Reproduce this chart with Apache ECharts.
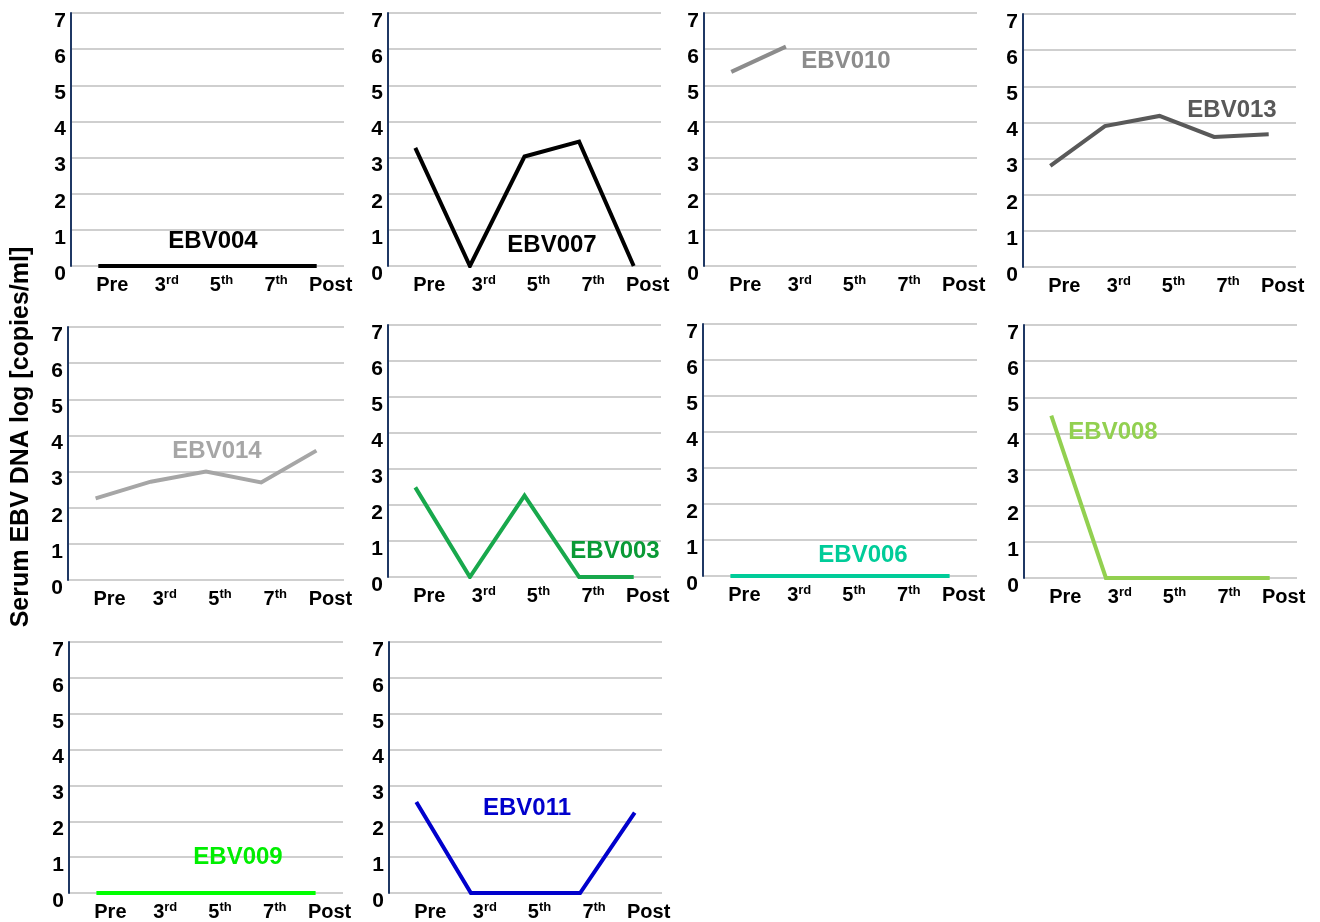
<!DOCTYPE html>
<html>
<head>
<meta charset="utf-8">
<script src="https://cdn.jsdelivr.net/npm/echarts@6/dist/echarts.min.js"></script>
<style>
  html, body { margin: 0; padding: 0; background: #fff; }
  #main { width: 1320px; height: 922px; }
</style>
</head>
<body>
<div id="main"></div>
<script>
// 数据
let categories = ['Pre', '3rd', '5th', '7th', 'Post'];
let yTicks = [0, 7, 1];

let ebv004 = [0, 0, 0, 0, 0];
let ebv007 = [3.27, 0, 3.03, 3.44, 0];
let ebv010 = [5.37, 6.07, null, null, null];
let ebv013 = [2.8, 3.9, 4.18, 3.6, 3.67];
let ebv014 = [2.26, 2.72, 3.0, 2.7, 3.58];
let ebv003 = [2.49, 0, 2.26, 0, 0];
let ebv006 = [0, 0, 0, 0, 0];
let ebv008 = [4.49, 0, 0, 0, 0];
let ebv009 = [0, 0, 0, 0, 0];
let ebv011 = [2.54, 0, 0, 0, 2.24];

let names = ['EBV004', 'EBV007', 'EBV010', 'EBV013', 'EBV014', 'EBV003', 'EBV006', 'EBV008', 'EBV009', 'EBV011'];
let values = [ebv004, ebv007, ebv010, ebv013, ebv014, ebv003, ebv006, ebv008, ebv009, ebv011];

// 每个小图的样式和位置
let panels = [
  { grid: [71, 13, 273, 253], color: '#000000', labelColor: '#000000', label: [213, 241] },
  { grid: [388, 13, 273, 253], color: '#000000', labelColor: '#000000', label: [552, 245] },
  { grid: [704, 13, 273, 253], color: '#8C8C8C', labelColor: '#8C8C8C', label: [846, 61] },
  { grid: [1023, 14, 273, 253], color: '#595959', labelColor: '#595959', label: [1232, 110] },
  { grid: [68, 327, 276, 253], color: '#A6A6A6', labelColor: '#A6A6A6', label: [217, 451] },
  { grid: [388, 325, 273, 252], color: '#18A84C', labelColor: '#0A9A36', label: [615, 551] },
  { grid: [703, 324, 274, 252], color: '#00CC99', labelColor: '#00CC99', label: [863, 555] },
  { grid: [1024, 325, 273, 253], color: '#92D050', labelColor: '#92D050', label: [1113, 432] },
  { grid: [69, 642, 274, 253], color: '#00FF00', labelColor: '#00EE00', label: [238, 857] },
  { grid: [389, 642, 273, 253], color: '#0000CC', labelColor: '#0000CC', label: [527, 808] }
];

let font = 'Liberation Sans, Arial, sans-serif';

let chartDom = document.getElementById('main');
let myChart = echarts.init(chartDom, null, { renderer: 'canvas' });

let grids = [], xAxes = [], yAxes = [], series = [], graphics = [];

panels.forEach(function (p, i) {
  grids.push({ left: p.grid[0], top: p.grid[1], width: p.grid[2], height: p.grid[3] });
  xAxes.push({
    type: 'category',
    gridIndex: i,
    data: categories,
    boundaryGap: true,
    axisLine: { show: false },
    axisTick: { show: false },
    axisLabel: {
      interval: 0,
      hideOverlap: false,
      margin: 8,
      padding: [0, 0, 0, 28],
      formatter: function (v) {
        let m = v.match(/^(\d)(\D+)$/);
        return m ? '{n|' + m[1] + '}{s|' + m[2] + '}' : '{n|' + v + '}';
      },
      rich: {
        n: { fontFamily: font, fontSize: 20, fontWeight: 'bold', color: '#000', lineHeight: 22 },
        s: { fontFamily: font, fontSize: 13, fontWeight: 'bold', color: '#000', lineHeight: 14, verticalAlign: 'top' }
      }
    }
  });
  yAxes.push({
    type: 'value',
    gridIndex: i,
    min: yTicks[0],
    max: yTicks[1],
    interval: yTicks[2],
    axisLine: { show: true, lineStyle: { color: '#1F3864', width: 2 } },
    axisTick: { show: false },
    splitLine: { show: true, lineStyle: { color: '#BFBFBF', width: 1.5 } },
    axisLabel: {
      margin: 5,
      verticalAlign: 'top',
      lineHeight: 16,
      fontFamily: font,
      fontSize: 21,
      fontWeight: 'bold',
      color: '#000'
    }
  });
  series.push({
    name: names[i],
    type: 'line',
    xAxisIndex: i,
    yAxisIndex: i,
    data: values[i],
    symbol: 'none',
    connectNulls: false,
    lineStyle: { color: p.color, width: 4, join: 'miter' },
    itemStyle: { color: p.color },
    animation: false,
    z: 3
  });
  graphics.push({
    type: 'text',
    x: p.label[0],
    y: p.label[1],
    z: 10,
    style: {
      text: names[i],
      fill: p.labelColor,
      font: 'bold 24px ' + font,
      align: 'center',
      verticalAlign: 'middle'
    }
  });
});

// y轴标题
graphics.push({
  type: 'text',
  x: 21,
  y: 437,
  rotation: Math.PI / 2,
  style: {
    text: 'Serum EBV DNA log [copies/ml]',
    fill: '#000',
    font: 'bold 25px ' + font,
    align: 'center',
    verticalAlign: 'middle'
  }
});

let option = {
  animation: false,
  backgroundColor: '#fff',
  grid: grids,
  xAxis: xAxes,
  yAxis: yAxes,
  series: series,
  graphic: graphics
};

option && myChart.setOption(option);
</script>
</body>
</html>
